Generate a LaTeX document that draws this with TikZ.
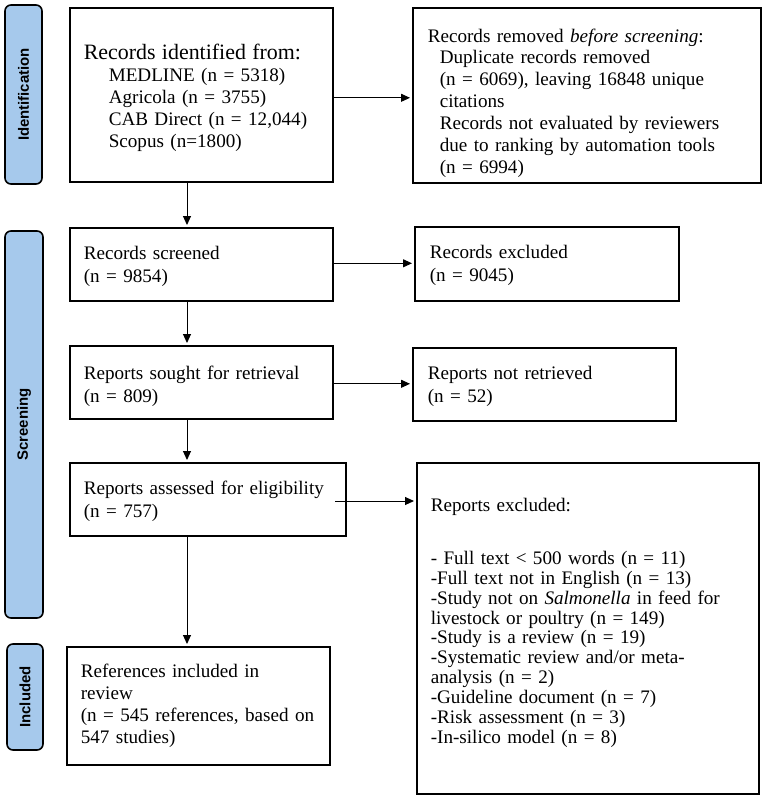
\documentclass[tikz,border=0pt]{standalone}
\usepackage{fontspec}
\setmainfont{Liberation Serif}
\newfontfamily\labelsans{Liberation Sans}
\usetikzlibrary{arrows.meta}
\definecolor{labelblue}{RGB}{166,201,236}
\newcommand{\tstrut}[1]{\rule{0pt}{#1}}
\newcommand{\bstrut}[1]{\rule[-#1]{0pt}{#1}}
\begin{document}
\begin{tikzpicture}[x=1bp,y=-1bp,
  box/.style={draw, line width=1.6bp, anchor=north west, inner xsep=14bp, inner ysep=0pt,
    align=left, font=\fontsize{19.2}{22}\selectfont},
  twoline/.style={box, font=\fontsize{19.2}{23.5}\selectfont},
  phase/.style={draw, line width=1.6bp, rounded corners=6bp, fill=labelblue, rotate=90,
    inner sep=0pt, font=\labelsans\bfseries\fontsize{15}{18}\selectfont},
  arr/.style={line width=1bp, -{Triangle[length=9bp,width=8bp]}, shorten >=2bp}
]
\useasboundingbox (0,0) rectangle (765,799);
\fill[white] (0,0) rectangle (765,799);

% phase labels
\node[phase, minimum width=179bp, minimum height=37bp] (lid) at (23.5,94.5) {Identification};
\node[phase, minimum width=387bp, minimum height=38bp] (lsc) at (24,424.5) {Screening};
\node[phase, minimum width=106bp, minimum height=36bp] (lin) at (25,697) {Included};

% boxes
\node[box, minimum width=263bp, minimum height=174bp, text width=235bp] (b1) at (69,7) {%
\tstrut{21bp}{\fontsize{22}{22}\selectfont Records identified from:}\\
\hspace*{25bp}MEDLINE (n = 5318)\\
\hspace*{25bp}Agricola (n = 3755)\\
\hspace*{25bp}CAB Direct (n = 12,044)\\
\hspace*{25bp}Scopus (n=1800)};

\node[box, minimum width=346bp, minimum height=175bp, text width=318bp, inner xsep=15bp] (b2) at (412,7) {%
\tstrut{29bp}Records removed \textit{before screening}:\\
\hspace*{12bp}Duplicate records removed\\
\hspace*{12bp}(n = 6069), leaving 16848 unique\\
\hspace*{12bp}citations\\
\hspace*{12bp}Records not evaluated by reviewers\\
\hspace*{12bp}due to ranking by automation tools\\
\hspace*{12bp}(n = 6994)};

\node[twoline, minimum width=263bp, minimum height=73bp, text width=235bp] (b3) at (69,227) {%
\tstrut{17bp}Records screened\\(n = 9854)};

\node[twoline, minimum width=264bp, minimum height=74bp, text width=234bp, inner xsep=15bp] (b4) at (414,226) {%
\tstrut{16bp}Records excluded\\(n = 9045)};

\node[twoline, minimum width=263bp, minimum height=73bp, text width=235bp] (b5) at (69,345) {%
\tstrut{21bp}Reports sought for retrieval\\(n = 809)};

\node[twoline, minimum width=263bp, minimum height=73bp, text width=233bp, inner xsep=15bp] (b6) at (412,347) {%
\tstrut{17bp}Reports not retrieved\\(n = 52)};

\node[twoline, minimum width=276bp, minimum height=73bp, text width=248bp] (b7) at (69,462) {%
\tstrut{18bp}Reports assessed for eligibility\\(n = 757)};

\node[box, font=\fontsize{19.2}{20}\selectfont, minimum width=342bp, minimum height=331bp, text width=314bp] (b8) at (416,462) {%
Reports excluded:\\[33bp]
- Full text < 500 words (n = 11)\\
-Full text not in English (n = 13)\\
-Study not on \textit{Salmonella} in feed for\\
livestock or poultry (n = 149)\\
-Study is a review (n = 19)\\
-Systematic review and/or meta-\\
analysis (n = 2)\\
-Guideline document (n = 7)\\
-Risk assessment (n = 3)\\
-In-silico model (n = 8)\bstrut{15bp}};

\node[box, minimum width=263bp, minimum height=118bp, text width=235bp] (b9) at (66,646) {%
References included in\\
review\\
\mbox{(n = 545 references, based on}\\
547 studies)};

% connectors
\coordinate (vx) at (187,0);
\coordinate (a7) at (335,501);
\draw[arr] ([yshift=-3bp]b1.east) -- ([yshift=-3bp]b1.east -| b2.west);
\draw[arr] ([yshift=1bp]b3.east) -- ([yshift=1bp]b3.east -| b4.west);
\draw[arr] ([yshift=-1.5bp]b5.east) -- ([yshift=-1.5bp]b5.east -| b6.west);
\draw[arr] (a7) -- (a7 -| b8.west);
\draw[arr] (b1.south -| vx) -- (b3.north -| vx);
\draw[arr] (b3.south -| vx) -- (b5.north -| vx);
\draw[arr] (b5.south -| vx) -- (b7.north -| vx);
\draw[arr] (b7.south -| vx) -- (b9.north -| vx);
\end{tikzpicture}
\end{document}
